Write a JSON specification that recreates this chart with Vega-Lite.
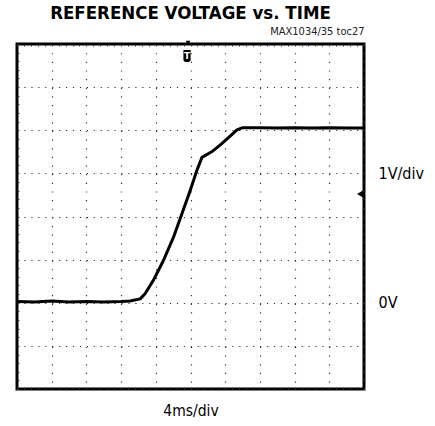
{
  "$schema": "https://vega.github.io/schema/vega-lite/v6.json",
  "width": 347,
  "height": 345,
  "autosize": "none",
  "padding": {"left": 17, "top": 44, "right": 71, "bottom": 37},
  "background": "white",
  "config": {
    "view": {"stroke": "black", "strokeWidth": 3},
    "axis": {"labelFont": "DejaVu Sans Condensed", "titleFont": "DejaVu Sans Condensed", "labelColor": "black", "titleColor": "black", "titleFontWeight": "normal"}
  },
  "title": {
    "text": "REFERENCE VOLTAGE vs. TIME",
    "font": "DejaVu Sans Condensed",
    "fontWeight": "bold",
    "fontSize": 18.5,
    "color": "black",
    "anchor": "middle",
    "offset": 3
  },
  "resolve": {"axis": {"x": "independent", "y": "independent"}},
  "layer": [
    {
      "data": {"values": [
        {"t": 0, "v": 2.03}, {"t": 0.5, "v": 2.02}, {"t": 1.0, "v": 2.04}, {"t": 1.5, "v": 2.02},
        {"t": 2.0, "v": 2.03}, {"t": 2.5, "v": 2.02}, {"t": 3.0, "v": 2.03}, {"t": 3.26, "v": 2.04},
        {"t": 3.55, "v": 2.09}, {"t": 3.69, "v": 2.21}, {"t": 3.93, "v": 2.52}, {"t": 4.22, "v": 2.98},
        {"t": 4.51, "v": 3.52}, {"t": 4.75, "v": 4.06}, {"t": 4.99, "v": 4.60}, {"t": 5.18, "v": 5.06},
        {"t": 5.33, "v": 5.37}, {"t": 5.61, "v": 5.50}, {"t": 5.86, "v": 5.66}, {"t": 6.15, "v": 5.87},
        {"t": 6.34, "v": 6.01}, {"t": 6.5, "v": 6.06}, {"t": 7.0, "v": 6.06}, {"t": 7.5, "v": 6.05},
        {"t": 8.0, "v": 6.06}, {"t": 8.5, "v": 6.05}, {"t": 9.0, "v": 6.06}, {"t": 9.5, "v": 6.05},
        {"t": 10.0, "v": 6.05}
      ]},
      "mark": {"type": "line", "color": "black", "strokeWidth": 3, "strokeJoin": "round"},
      "encoding": {
        "x": {"field": "t", "type": "quantitative", "scale": {"domain": [0, 10], "nice": false, "zero": false},
          "axis": {"orient": "bottom", "title": "4ms/div", "titleFontSize": 15.5, "titlePadding": 14,
            "values": [0,0.2,0.4,0.6,0.8,1,1.2,1.4,1.6,1.8,2,2.2,2.4,2.6,2.8,3,3.2,3.4,3.6,3.8,4,4.2,4.4,4.6,4.8,5,5.2,5.4,5.6,5.8,6,6.2,6.4,6.6,6.8,7,7.2,7.4,7.6,7.8,8,8.2,8.4,8.6,8.8,9,9.2,9.4,9.6,9.8,10],
            "labels": false, "domain": false, "ticks": true, "tickSize": -2, "tickColor": "#333", "tickWidth": 1,
            "grid": true, "gridColor": "#333", "gridWidth": 1.2, "gridDash": [1.2, 7.44],
            "gridOpacity": {"condition": {"test": "datum.value % 1 == 0 && datum.value > 0 && datum.value < 10", "value": 1}, "value": 0}}},
        "y": {"field": "v", "type": "quantitative", "scale": {"domain": [0, 8], "nice": false, "zero": false},
          "axis": {"orient": "left", "title": null,
            "values": [0,0.2,0.4,0.6,0.8,1,1.2,1.4,1.6,1.8,2,2.2,2.4,2.6,2.8,3,3.2,3.4,3.6,3.8,4,4.2,4.4,4.6,4.8,5,5.2,5.4,5.6,5.8,6,6.2,6.4,6.6,6.8,7,7.2,7.4,7.6,7.8,8],
            "labels": false, "domain": false, "ticks": true, "tickSize": -2, "tickColor": "#333", "tickWidth": 1,
            "grid": true, "gridColor": "#333", "gridWidth": 1.2, "gridDash": [1.2, 5.73],
            "gridOpacity": {"condition": {"test": "datum.value % 1 == 0 && datum.value > 0 && datum.value < 8", "value": 1}, "value": 0}}}
      }
    },
    {
      "data": {"values": [{"t": 4.93, "v": 8.03}]},
      "mark": {"type": "point", "shape": "triangle-down", "filled": true, "color": "black", "size": 22, "opacity": 1, "clip": false},
      "encoding": {
        "x": {"field": "t", "type": "quantitative",
          "axis": {"orient": "top", "title": "MAX1034/35 toc27", "titleFont": "DejaVu Sans Condensed", "titleFontSize": 11, "titleColor": "#222",
            "titleAnchor": "end", "titleAlign": "right", "titlePadding": 7,
            "values": [0,0.2,0.4,0.6,0.8,1,1.2,1.4,1.6,1.8,2,2.2,2.4,2.6,2.8,3,3.2,3.4,3.6,3.8,4,4.2,4.4,4.6,4.8,5,5.2,5.4,5.6,5.8,6,6.2,6.4,6.6,6.8,7,7.2,7.4,7.6,7.8,8,8.2,8.4,8.6,8.8,9,9.2,9.4,9.6,9.8,10],
            "labels": false, "domain": false, "ticks": true, "tickSize": -2, "tickColor": "#333", "tickWidth": 1, "grid": false}},
        "y": {"field": "v", "type": "quantitative",
          "axis": {"orient": "right", "title": null,
            "values": [0,0.2,0.4,0.6,0.8,1,1.2,1.4,1.6,1.8,2,2.2,2.4,2.6,2.8,3,3.2,3.4,3.6,3.8,4,4.2,4.4,4.6,4.8,5,5.2,5.4,5.6,5.8,6,6.2,6.4,6.6,6.8,7,7.2,7.4,7.6,7.8,8],
            "labelExpr": "datum.value == 5 ? '1V/div' : (datum.value == 2 ? '0V' : '')",
            "labelFontSize": 16, "labelPadding": 16, "labelOverlap": false, "labelBound": false, "labelFlush": false,
            "domain": false, "ticks": true, "tickSize": -2, "tickColor": "#333", "tickWidth": 1, "grid": false}}
      }
    },
    {
      "data": {"values": [{"t": 9.89, "v": 4.52}]},
      "mark": {"type": "point", "shape": "triangle-left", "filled": true, "color": "black", "size": 55, "opacity": 1},
      "encoding": {
        "x": {"field": "t", "type": "quantitative", "axis": null},
        "y": {"field": "v", "type": "quantitative", "axis": null}
      }
    },
    {
      "data": {"values": [{"t": 4.9, "v": 7.72, "label": "T"}]},
      "mark": {"type": "point", "shape": "M-0.6,-1 L0.6,-1 L0.6,0.6 Q0.6,1 0,1 Q-0.6,1 -0.6,0.6 Z", "filled": true, "color": "black", "size": 144, "opacity": 1},
      "encoding": {
        "x": {"field": "t", "type": "quantitative", "axis": null},
        "y": {"field": "v", "type": "quantitative", "axis": null}
      }
    },
    {
      "data": {"values": [{"t": 4.9, "v": 7.72, "label": "T"}]},
      "mark": {"type": "text", "color": "white", "font": "DejaVu Sans", "fontWeight": "bold", "fontSize": 9, "baseline": "middle", "align": "center", "dy": -0.5},
      "encoding": {
        "x": {"field": "t", "type": "quantitative", "axis": null},
        "y": {"field": "v", "type": "quantitative", "axis": null},
        "text": {"field": "label"}
      }
    }
  ]
}
